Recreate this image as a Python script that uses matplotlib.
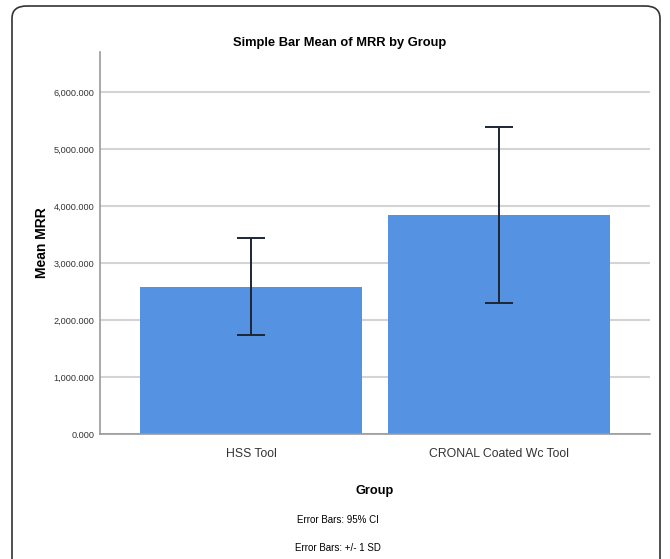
import matplotlib.pyplot as plt
from matplotlib.patches import FancyBboxPatch
from matplotlib.ticker import FuncFormatter, MultipleLocator

plt.rcParams['font.family'] = ['Liberation Sans', 'DejaVu Sans']

groups = ['HSS Tool', 'CRONAL Coated Wc Tool']
means = [2585.0, 3840.0]
sds = [857.0, 1541.0]

fig = plt.figure(figsize=(6.7, 5.59), dpi=100)

# outer rounded frame
frame = FancyBboxPatch((12 / 670, -0.05), 648 / 670, 1.05 - 6 / 559,
                       boxstyle='round,pad=0,rounding_size=0.022',
                       transform=fig.transFigure, fill=False,
                       edgecolor='#333333', linewidth=1.2)
fig.patches.append(frame)

ax = fig.add_axes([100 / 670, 1 - 434 / 559, 550 / 670, 382 / 559])

x = range(len(groups))
ax.bar(x, means, width=0.895, color='#5593E2', zorder=2)
ax.errorbar(x, means, yerr=sds, fmt='none', ecolor='#1e2633',
            elinewidth=1.4, capsize=10, capthick=1.4, zorder=3)

ax.set_xlim(-0.609, 1.609)
ax.set_ylim(0, 6700)
ax.yaxis.set_major_locator(MultipleLocator(1000))
ax.yaxis.set_major_formatter(FuncFormatter(lambda v, p: f'{v:,.3f}'))
ax.grid(axis='y', color='#d4d4d4', linewidth=1.5, zorder=0)
ax.set_axisbelow(True)

ax.set_xticks(list(x))
ax.set_xticklabels(groups, fontsize=8.8, color='#333333')
ax.tick_params(axis='y', labelsize=6.6, colors='#333333', length=0, pad=4)
ax.tick_params(axis='x', length=0, pad=10)

for s in ['top', 'right']:
    ax.spines[s].set_visible(False)
for s in ['left', 'bottom']:
    ax.spines[s].set_color('#999999')
    ax.spines[s].set_linewidth(1.2)

ax.set_ylabel('Mean MRR', fontsize=10, fontweight='bold', labelpad=3)
ax.set_xlabel('Group', fontsize=9.2, fontweight='bold', labelpad=18)

fig.text(340 / 670, 1 - 43 / 559, 'Simple Bar Mean of MRR by Group',
         ha='center', va='center', fontsize=9.3, fontweight='bold')
fig.text(338 / 670, 1 - 520 / 559, 'Error Bars: 95% CI',
         ha='center', va='center', fontsize=7)
fig.text(338 / 670, 1 - 548 / 559, 'Error Bars: +/- 1 SD',
         ha='center', va='center', fontsize=7)

plt.savefig('out.png', dpi=100)
